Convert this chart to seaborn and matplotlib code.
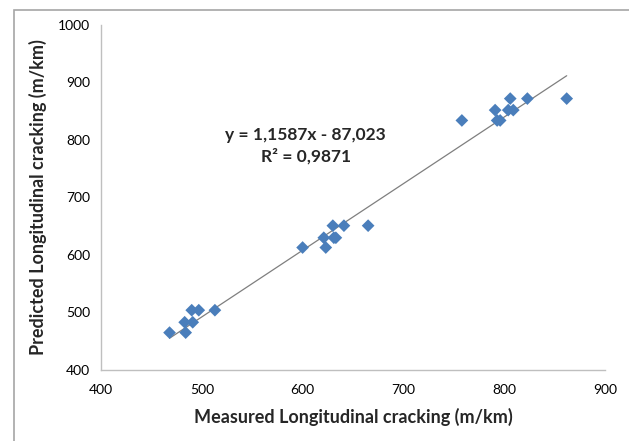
import matplotlib.pyplot as plt
import seaborn as sns
import pandas as pd
from matplotlib.patches import Rectangle

# values
measured = [468, 484, 483, 491, 490, 497, 513,
            600, 623, 621, 631, 633, 630, 641, 665,
            758, 791, 793, 796, 804, 809, 806, 823, 862]
predicted = [465, 465, 483, 483, 504, 504, 504,
             613, 613, 630, 630, 630, 651, 651, 651,
             834, 852, 834, 834, 852, 852, 872, 872, 872]
slope = 1.1587
intercept = -87.023
eq_text = "y = 1,1587x - 87,023\nR² = 0,9871"

df = pd.DataFrame({"measured": measured, "predicted": predicted})

sns.set_style("white")
plt.rcParams["font.family"] = ["Lato", "DejaVu Sans"]

fig = plt.figure(figsize=(6.29, 4.41), dpi=100)
ax = fig.add_axes([101 / 629, 1 - 370 / 441, 504 / 629, 345 / 441])

# outer frame like the excel chart area
fig.patches.append(Rectangle((14 / 629, -0.02), 1.0, 1 - 9.5 / 441 + 0.02,
                             transform=fig.transFigure, fill=False,
                             edgecolor="#a6a6a6", linewidth=1.2))

# trend line
x0, x1 = min(measured), max(measured)
ax.plot([x0, x1], [slope * x0 + intercept, slope * x1 + intercept],
        color="#7f7f7f", linewidth=0.9, zorder=1)

sns.scatterplot(data=df, x="measured", y="predicted", marker="D", s=42,
                color="#4a7ebb", edgecolor="none", ax=ax, zorder=2)

ax.set_xlim(400, 900)
ax.set_ylim(400, 1000)
ax.set_xticks([400, 500, 600, 700, 800, 900])
ax.set_yticks([400, 500, 600, 700, 800, 900, 1000])

for side in ["top", "right"]:
    ax.spines[side].set_visible(False)
for side in ["left", "bottom"]:
    ax.spines[side].set_color("#bfbfbf")
    ax.spines[side].set_linewidth(1)
ax.tick_params(axis="both", direction="out", length=4, width=1, color="#bfbfbf",
               labelsize=10, labelcolor="black")
ax.tick_params(axis="x", pad=6)
ax.tick_params(axis="y", pad=4)

ax.set_xlabel("Measured Longitudinal cracking (m/km)", fontsize=13, fontweight="bold", labelpad=9)
ax.set_ylabel("Predicted Longitudinal cracking (m/km)", fontsize=13, fontweight="bold", labelpad=8)

ax.text(603, 790, eq_text, ha="center", va="center", fontsize=12.5,
        fontweight="bold", linespacing=1.4)

fig.savefig("out.png", dpi=100)
